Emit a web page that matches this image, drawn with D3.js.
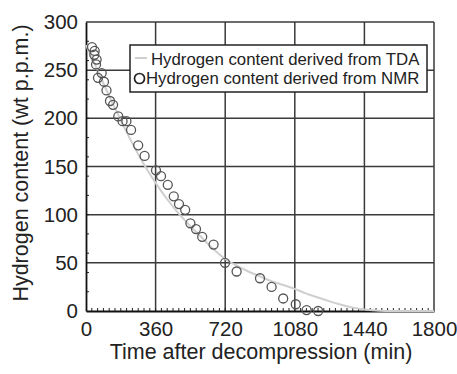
<!DOCTYPE html>
<html>
<head>
<meta charset="utf-8">
<script src="https://cdn.jsdelivr.net/npm/d3@7"></script>
<style>
  html, body { margin: 0; padding: 0; background: #fff; }
  svg { display: block; font-family: "Liberation Sans", Arial, sans-serif; }
</style>
</head>
<body>
<svg id="chart" width="457" height="374"></svg>
<script>
// NMR measurements: time after decompression (min) and hydrogen content (wt p.p.m.)
const nmrTime = [31, 45, 43, 55, 52, 81, 62, 93, 106, 124, 140, 167, 189, 209, 233, 270, 303,
  362, 388, 423, 454, 481, 513, 540, 569, 601, 660, 719, 779, 900, 960, 1020, 1085, 1141, 1201];
const nmrH = [274, 270, 266, 261, 256, 247, 242, 238, 229, 218, 214, 202, 197, 197, 188, 172, 161,
  146, 140, 131, 119, 111, 105, 91, 85, 77, 69, 50, 41, 34, 25, 13, 7, 1, 0];

// TDA-derived curve
const tdaTime = [0, 60, 120, 180, 240, 300, 360, 420, 480, 540, 600, 660, 720, 780, 840, 900,
  960, 1020, 1080, 1140, 1200, 1260, 1320, 1380, 1440, 1500, 1560, 1800];
const tdaH = [276, 250, 223, 198, 174, 152, 133, 116, 101, 88, 76, 64, 54, 47, 41, 36,
  31, 27, 23, 18, 14, 10, 6.5, 3.5, 1.5, 0.5, 0, 0];

const xTicks = [0, 360, 720, 1080, 1440, 1800];
const yTicks = [0, 50, 100, 150, 200, 250, 300];
const legendLabels = ["Hydrogen content derived from TDA", "Hydrogen content derived from NMR"];

const svg = d3.select("#chart");
const m = { left: 86, right: 434, top: 22, bottom: 311 };

const x = d3.scaleLinear().domain([0, 1800]).range([m.left, m.right]);
const y = d3.scaleLinear().domain([0, 300]).range([m.bottom, m.top]);

const gridColor = "#3a3a3a";

// grid lines
const grid = svg.append("g");
grid.selectAll("line.v").data(xTicks.slice(1)).join("line")
  .attr("x1", d => x(d)).attr("x2", d => x(d))
  .attr("y1", y(0)).attr("y2", y(300))
  .attr("stroke", gridColor).attr("stroke-width", 1.5);
grid.selectAll("line.h").data(yTicks.slice(1)).join("line")
  .attr("x1", x(0)).attr("x2", x(1800))
  .attr("y1", d => y(d)).attr("y2", d => y(d))
  .attr("stroke", gridColor).attr("stroke-width", 1.5);

// minor ticks pointing inward
const xMinor = d3.range(30, 1800, 30);
svg.append("g").selectAll("line").data(xMinor).join("line")
  .attr("x1", d => x(d)).attr("x2", d => x(d))
  .attr("y1", y(0)).attr("y2", y(0) - 3)
  .attr("stroke", "#222").attr("stroke-width", 1);
const yMinor = d3.range(20, 300, 20);
svg.append("g").selectAll("line").data(yMinor).join("line")
  .attr("x1", x(0)).attr("x2", x(0) + 3)
  .attr("y1", d => y(d)).attr("y2", d => y(d))
  .attr("stroke", "#222").attr("stroke-width", 1);

// axes
const xAxis = svg.append("g").attr("transform", `translate(0,${m.bottom})`)
  .call(d3.axisBottom(x).tickValues(xTicks).tickSize(0).tickPadding(10).tickFormat(d3.format("d")));
const yAxis = svg.append("g").attr("transform", `translate(${m.left},0)`)
  .call(d3.axisLeft(y).tickValues(yTicks).tickSize(0).tickPadding(8).tickFormat(d3.format("d")));
[xAxis, yAxis].forEach(a => {
  a.select(".domain").attr("stroke", "#111").attr("stroke-width", 1.8);
  a.selectAll("text").attr("font-size", 20.5).attr("fill", "#222")
    .attr("font-family", "'Liberation Sans', Arial, sans-serif");
});

// TDA curve
const line = d3.line().x((d, i) => x(tdaTime[i])).y((d, i) => y(tdaH[i])).curve(d3.curveMonotoneX);
svg.append("path").datum(tdaH).attr("d", line)
  .attr("fill", "none").attr("stroke", "#cfcfcf").attr("stroke-width", 2);

// NMR circles
svg.append("g").selectAll("circle").data(nmrH).join("circle")
  .attr("cx", (d, i) => x(nmrTime[i])).attr("cy", d => y(d)).attr("r", 4.5)
  .attr("fill", "none").attr("stroke", "#555").attr("stroke-width", 1.3);

// axis titles
svg.append("text").attr("x", 261).attr("y", 359).attr("text-anchor", "middle")
  .attr("font-size", 21.5).attr("fill", "#222").text("Time after decompression (min)");
svg.append("text").attr("transform", "translate(28,163) rotate(-90)").attr("text-anchor", "middle")
  .attr("font-size", 21.5).attr("fill", "#222").text("Hydrogen content (wt p.p.m.)");

// legend
const lg = svg.append("g");
lg.append("rect").attr("x", 130).attr("y", 45).attr("width", 297).attr("height", 47)
  .attr("fill", "#fff").attr("stroke", "#222").attr("stroke-width", 1.5);
lg.append("line").attr("x1", 135).attr("x2", 147).attr("y1", 58).attr("y2", 58)
  .attr("stroke", "#cfcfcf").attr("stroke-width", 2);
lg.append("circle").attr("cx", 139.5).attr("cy", 78.5).attr("r", 5)
  .attr("fill", "none").attr("stroke", "#222").attr("stroke-width", 1.7);
const legendX = [151, 146];
lg.selectAll("text").data(legendLabels).join("text")
  .attr("x", (d, i) => legendX[i]).attr("y", (d, i) => 64.5 + i * 19)
  .attr("font-size", 16.8).attr("fill", "#222").text(d => d);
</script>
</body>
</html>
